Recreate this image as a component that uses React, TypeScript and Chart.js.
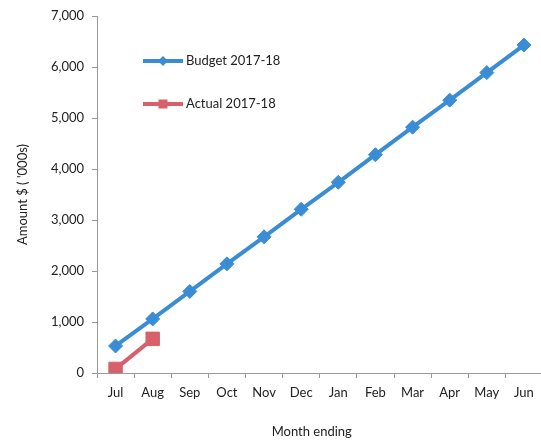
import React, { useEffect, useRef } from "react";
import { Chart, registerables } from "chart.js";

Chart.register(...registerables);

const months = ["Jul", "Aug", "Sep", "Oct", "Nov", "Dec", "Jan", "Feb", "Mar", "Apr", "May", "Jun"];
const budget = [530, 1060, 1600, 2140, 2670, 3210, 3740, 4280, 4820, 5350, 5890, 6430];
const actual: (number | null)[] = [80, 670, null, null, null, null, null, null, null, null, null, null];
const seriesNames = ["Budget 2017-18", "Actual 2017-18"];
const yTitle = "Amount $ ( '000s)";
const xTitle = "Month ending";

const BLUE = "#3A8DD4";
const RED = "#D8606A";
const FONT = "Lato, 'Open Sans', sans-serif";

const legendPlugin = {
  id: "insideLegend",
  afterDraw(chart: any) {
    const { ctx, chartArea } = chart;
    const items = [
      { name: seriesNames[0], color: BLUE, shape: "diamond", dy: 45 },
      { name: seriesNames[1], color: RED, shape: "square", dy: 88 },
    ];
    ctx.save();
    for (const it of items) {
      const x0 = chartArea.left + 46;
      const x1 = x0 + 40;
      const y = chartArea.top + it.dy;
      ctx.strokeStyle = it.color;
      ctx.lineWidth = 4;
      ctx.beginPath();
      ctx.moveTo(x0, y);
      ctx.lineTo(x1, y);
      ctx.stroke();
      ctx.fillStyle = it.color;
      const cx = (x0 + x1) / 2;
      ctx.beginPath();
      if (it.shape === "diamond") {
        ctx.moveTo(cx, y - 5);
        ctx.lineTo(cx + 5, y);
        ctx.lineTo(cx, y + 5);
        ctx.lineTo(cx - 5, y);
        ctx.closePath();
      } else {
        ctx.rect(cx - 4.5, y - 4.5, 9, 9);
      }
      ctx.fill();
      ctx.fillStyle = "#222";
      ctx.font = `13px ${FONT}`;
      ctx.textBaseline = "middle";
      ctx.textAlign = "left";
      ctx.fillText(it.name, x1 + 3, y);
    }
    // x-axis title, centred on the whole figure like the original
    ctx.font = `13px ${FONT}`;
    ctx.textAlign = "center";
    ctx.textBaseline = "middle";
    ctx.fillStyle = "#222";
    ctx.fillText(xTitle, (chartArea.left + chartArea.right) / 2 - 8, chartArea.bottom + 59);
    ctx.restore();
  },
};

export default function App() {
  const ref = useRef<HTMLCanvasElement>(null);
  useEffect(() => {
    if (!ref.current) return;
    const chart = new Chart(ref.current, {
      type: "line",
      data: {
        labels: months,
        datasets: [
          {
            label: seriesNames[0],
            data: budget,
            borderColor: BLUE,
            backgroundColor: BLUE,
            borderWidth: 4,
            pointStyle: "rectRot",
            pointRadius: 7,
            pointBorderWidth: 1,
            tension: 0,
          },
          {
            label: seriesNames[1],
            data: actual,
            borderColor: RED,
            backgroundColor: RED,
            borderWidth: 4,
            pointStyle: "rect",
            pointRadius: 9.5,
            pointBorderWidth: 1,
            tension: 0,
            spanGaps: false,
          },
        ],
      },
      options: {
        animation: false,
        responsive: false,
        maintainAspectRatio: false,
        layout: { padding: { top: 16, right: 1, left: 0, bottom: 0 } },
        plugins: {
          legend: { display: false },
          tooltip: { enabled: false },
        },
        scales: {
          x: {
            offset: true,
            grid: {
              offset: true,
              drawOnChartArea: false,
              drawTicks: true,
              tickLength: 5,
              color: "#999",
            },
            border: { display: true, color: "#999", width: 1 },
            ticks: { color: "#222", font: { family: FONT, size: 13 }, padding: 7, maxRotation: 0, autoSkip: false },
            title: { display: false, text: xTitle },
            afterFit(scale: any) {
              scale.height = 70;
            },
          },
          y: {
            min: 0,
            max: 7000,
            grid: {
              drawOnChartArea: false,
              drawTicks: true,
              tickLength: 5,
              color: "#999",
            },
            border: { display: true, color: "#999", width: 1 },
            ticks: {
              stepSize: 1000,
              color: "#222",
              font: { family: FONT, size: 13 },
              padding: 8,
              callback: (v: any) => Number(v).toLocaleString("en-US"),
            },
            title: {
              display: true,
              text: yTitle,
              color: "#222",
              font: { family: FONT, size: 13 },
              padding: { top: 15, bottom: 0 },
            },
            afterFit(scale: any) {
              scale.width = 97;
            },
          },
        },
      },
      plugins: [legendPlugin],
    });
    return () => chart.destroy();
  }, []);
  return (
    <div style={{ position: "fixed", left: 0, top: 0, width: 541, height: 443, overflow: "hidden", background: "#fff" }}>
      <canvas ref={ref} width={553} height={443} style={{ display: "block" }} />
    </div>
  );
}
